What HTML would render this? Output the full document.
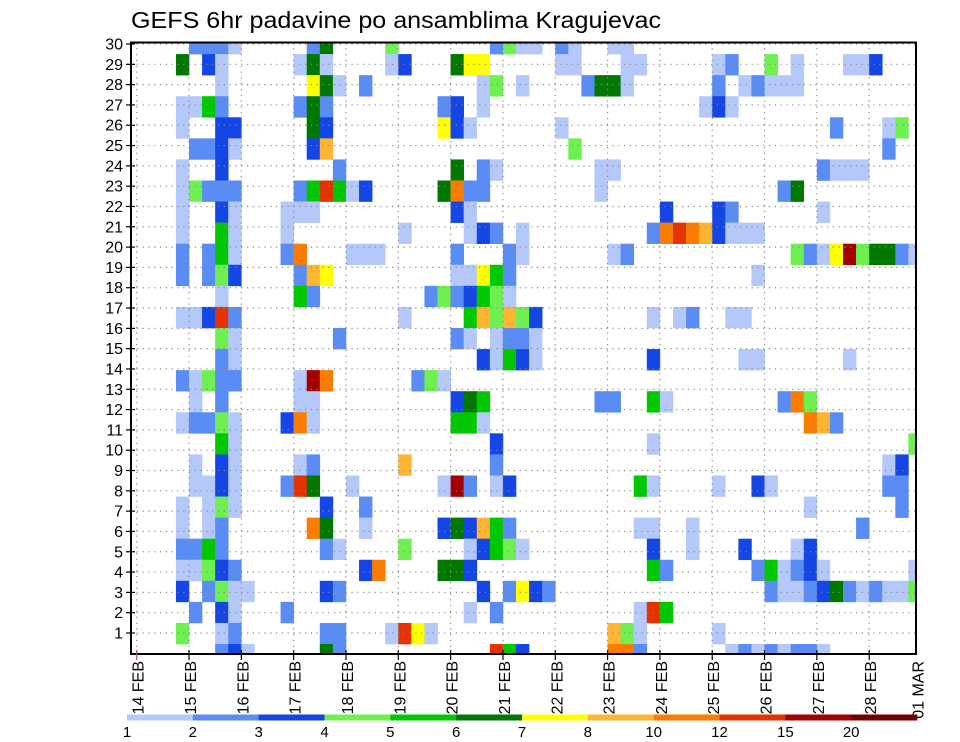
<!DOCTYPE html>
<html><head><meta charset="utf-8"><style>
html,body{margin:0;padding:0;background:#fff;}
svg{display:block;font-family:"Liberation Sans",sans-serif;}
</style></head><body>
<svg id="chart" width="960" height="742" viewBox="0 0 960 742" xmlns="http://www.w3.org/2000/svg">
<text x="131" y="28" font-size="23" textLength="530" lengthAdjust="spacingAndGlyphs">GEFS 6hr padavine po ansamblima Kragujevac</text>
<g id="cells"></g>
<g id="grid"></g>
<g id="axes"></g>
<g id="legend"></g>
</svg>
<script>
// Categories
const dayLabels = ["14 FEB","15 FEB","16 FEB","17 FEB","18 FEB","19 FEB","20 FEB","21 FEB","22 FEB","23 FEB","24 FEB","25 FEB","26 FEB","27 FEB","28 FEB","01 MAR"];
const memberTicks = [30,29,28,27,26,25,24,23,22,21,20,19,18,17,16,15,14,13,12,11,10,9,8,7,6,5,4,3,2,1];
const legendLabels = ["1","2","3","4","5","6","7","8","10","12","15","20"];
const levelBounds = [1,2,3,4,5,6,7,8,10,12,15,20];
const levelColors = ["#b4c8fa","#5a8cf5","#1446e6","#6ef050","#00c800","#007800","#ffff00","#ffb432","#fa7d00","#e63200","#a50000","#6e0000"];
// Representative precip values per colour code
const codeValues = {a:1.5,b:2.5,c:3.5,d:4.5,e:5.5,f:6.5,g:7.5,h:9,i:11,j:13.5,k:17,l:25};
// Series values: one row per ensemble member (top to bottom), "column+code" sparse entries
const memberRows = [
"5b6b7b8a14b15f20d28b29d30a31a33b34a37a38a",
"4f6c7a13a14f15a20a21c25f26g27g33a34a38a39a45a46b49d51a55a56a57c",
"7a14g15f16a18b27a28d30a35b36f37f38a45b47a48b49a50a51a",
"4a5a6e7b13b14f15b24b25c27a44a45c46a",
"4a7c8c14f15c24g25c26a33a54b58a59d",
"5b6b7c8a14c15h34d58b",
"4a7c16b25f27b28a36a37a53b54a55a56a",
"4a5d6b7b8b13b14e15j16e17a18c24f25i26b27b36a50b51f",
"4a7c8a12a13a14a25c26a41c45c46b53a",
"4a7e8a12a21a26a27c28b30a40b41i42j43i44h45c46a47a48a",
"4b6b7e8a12b13i17a18a19a25b29b30a37a38b51d52b53a54g55k56d57f58f59b60a",
"4b6b7d8c13b14h15g25a26a27g28e29b48a",
"7a13e14b23b24d25b26c27e28d29a",
"4a5a6c7j8b21a26e27h28d29h30d31c40a42a43b46a47a",
"7d8a16b25b26a28a29b30b31a",
"7b8a27c28a29e30c31a40c47a48a55a",
"4b5a6d7b8b13a14k15i22b23d24a",
"5a7b13a14a25c26f27e36b37b40e41a50b51i52d",
"4a5b6b7d8a12c13i14a25e26e27a52i53h54b",
"7e8a28c40a60d",
"5a7c8a13a14b21h28b58a59c",
"5a6a7c8a12b13j14f17a24a25k26b28a29c39e40a45a48c49a58b59b",
"4a6a7d8a15c18b52a59b",
"4a6a7b14i15f18a24c25f26c27h28e29b39a40a43a56b",
"4b5b6e7b15b16a21d26a27c28e29d30a40c43a47c51a52c",
"4a5a6d7c8b18c19i24f25f26c40e41b48b49e50a51b52c53a60a",
"4c6b7d8a9a15c16b27c29b30g31c32b49b50a51a52b53c54f55b56a57b58a59a60d",
"5b7c8a12b26a28b39a40j41e",
"4d7a8b15b16b20a21j22g23a37h38d39a45a",
"7b8c9a15f16b28j29e30c37i38i39b46a47b48a49b50a51b52b53a"
];

const NS="http://www.w3.org/2000/svg";
const PL=131, PR=916, PT=42.5, PB=654;
const COLW=13.08, COL0=123.6, ROWH=21.07, ROW0=33;
const DAY0=136.7, DAYW=52.32;
function xCol(c){return COL0+COLW*c;}
function yRow(r){return ROW0+ROWH*r;}
function xDay(d){return DAY0+DAYW*d;}
function yMember(m){return 653.3-20.31*m;}
function colorFor(v){let k=0;for(let i=0;i<levelBounds.length;i++){if(v>=levelBounds[i])k=i;}return levelColors[k];}
function mk(tag,attrs,parent){const e=document.createElementNS(NS,tag);for(const k in attrs)e.setAttribute(k,attrs[k]);parent.appendChild(e);return e;}

// parse into values
const values = memberRows.map(s=>{const out=[];const re=/(\d+)([a-l])/g;let m;while((m=re.exec(s))){out.push([+m[1],codeValues[m[2]]]);}return out;});

const cells=document.getElementById('cells');
values.forEach((row,r)=>{
  row.forEach(([c,v])=>{
    let x0=Math.max(PL,xCol(c)), x1=Math.min(PR,xCol(c+1));
    let y0=Math.max(PT,yRow(r)), y1=Math.min(PB,yRow(r+1));
    if(x1<=x0||y1<=y0)return;
    const el=mk('rect',{x:x0.toFixed(2),y:y0.toFixed(2),width:(x1-x0+0.3).toFixed(2),height:(y1-y0+0.3).toFixed(2),fill:colorFor(v)},cells);
    
    
  });
});

const grid=document.getElementById('grid');
memberTicks.forEach(m=>{
  const y=yMember(m);
  const l=mk('line',{x1:PL,x2:PR,y1:y,y2:y,stroke:"#888","stroke-width":1.2,"stroke-dasharray":"1.2 4.6"},grid);
  
  
});
dayLabels.forEach((d,i)=>{
  const x=xDay(i); if(x>PR)return;
  const l=mk('line',{x1:x,x2:x,y1:PT,y2:PB,stroke:"#888","stroke-width":1.2,"stroke-dasharray":"1.2 4.6"},grid);
  
  
});

const axes=document.getElementById('axes');
const frame=mk('rect',{x:PL,y:PT,width:PR-PL,height:PB-PT,fill:"none",stroke:"#000","stroke-width":2},axes);


memberTicks.forEach(m=>{
  const y=yMember(m);
  const t=mk('line',{x1:126,x2:PL+4,y1:y,y2:y,stroke:"#000","stroke-width":1.2},axes);
  
  
  const tx=mk('text',{x:123,y:y+5.5,"font-size":16,"text-anchor":"end"},axes);
  tx.textContent=m;
  
  
});
dayLabels.forEach((d,i)=>{
  const x=Math.min(xDay(i),PR+0.5);
  if(xDay(i)<=PR){
    const t=mk('line',{x1:x,x2:x,y1:PB-4,y2:PB+6,stroke:i===0?"#c05050":"#000","stroke-width":1.2},axes);
    
    
  }
  const tx=mk('text',{transform:`translate(${(x+7).toFixed(1)},661) rotate(-90)`,"font-size":16,"text-anchor":"end"},axes);
  tx.textContent=d;
  
  
});

const legend=document.getElementById('legend');
const LX0=127, LX1=917, LW=(LX1-LX0)/levelColors.length;
levelColors.forEach((c,i)=>{
  const r=mk('rect',{x:(LX0+LW*i).toFixed(2),y:714.5,width:(LW+0.3).toFixed(2),height:6,fill:c},legend);
  
  
});
legendLabels.forEach((s,i)=>{
  const t=mk('text',{x:(LX0+LW*i).toFixed(2),y:737,"font-size":15,"text-anchor":"middle"},legend);
  t.textContent=s;
  
  
});
</script>
</body></html>
